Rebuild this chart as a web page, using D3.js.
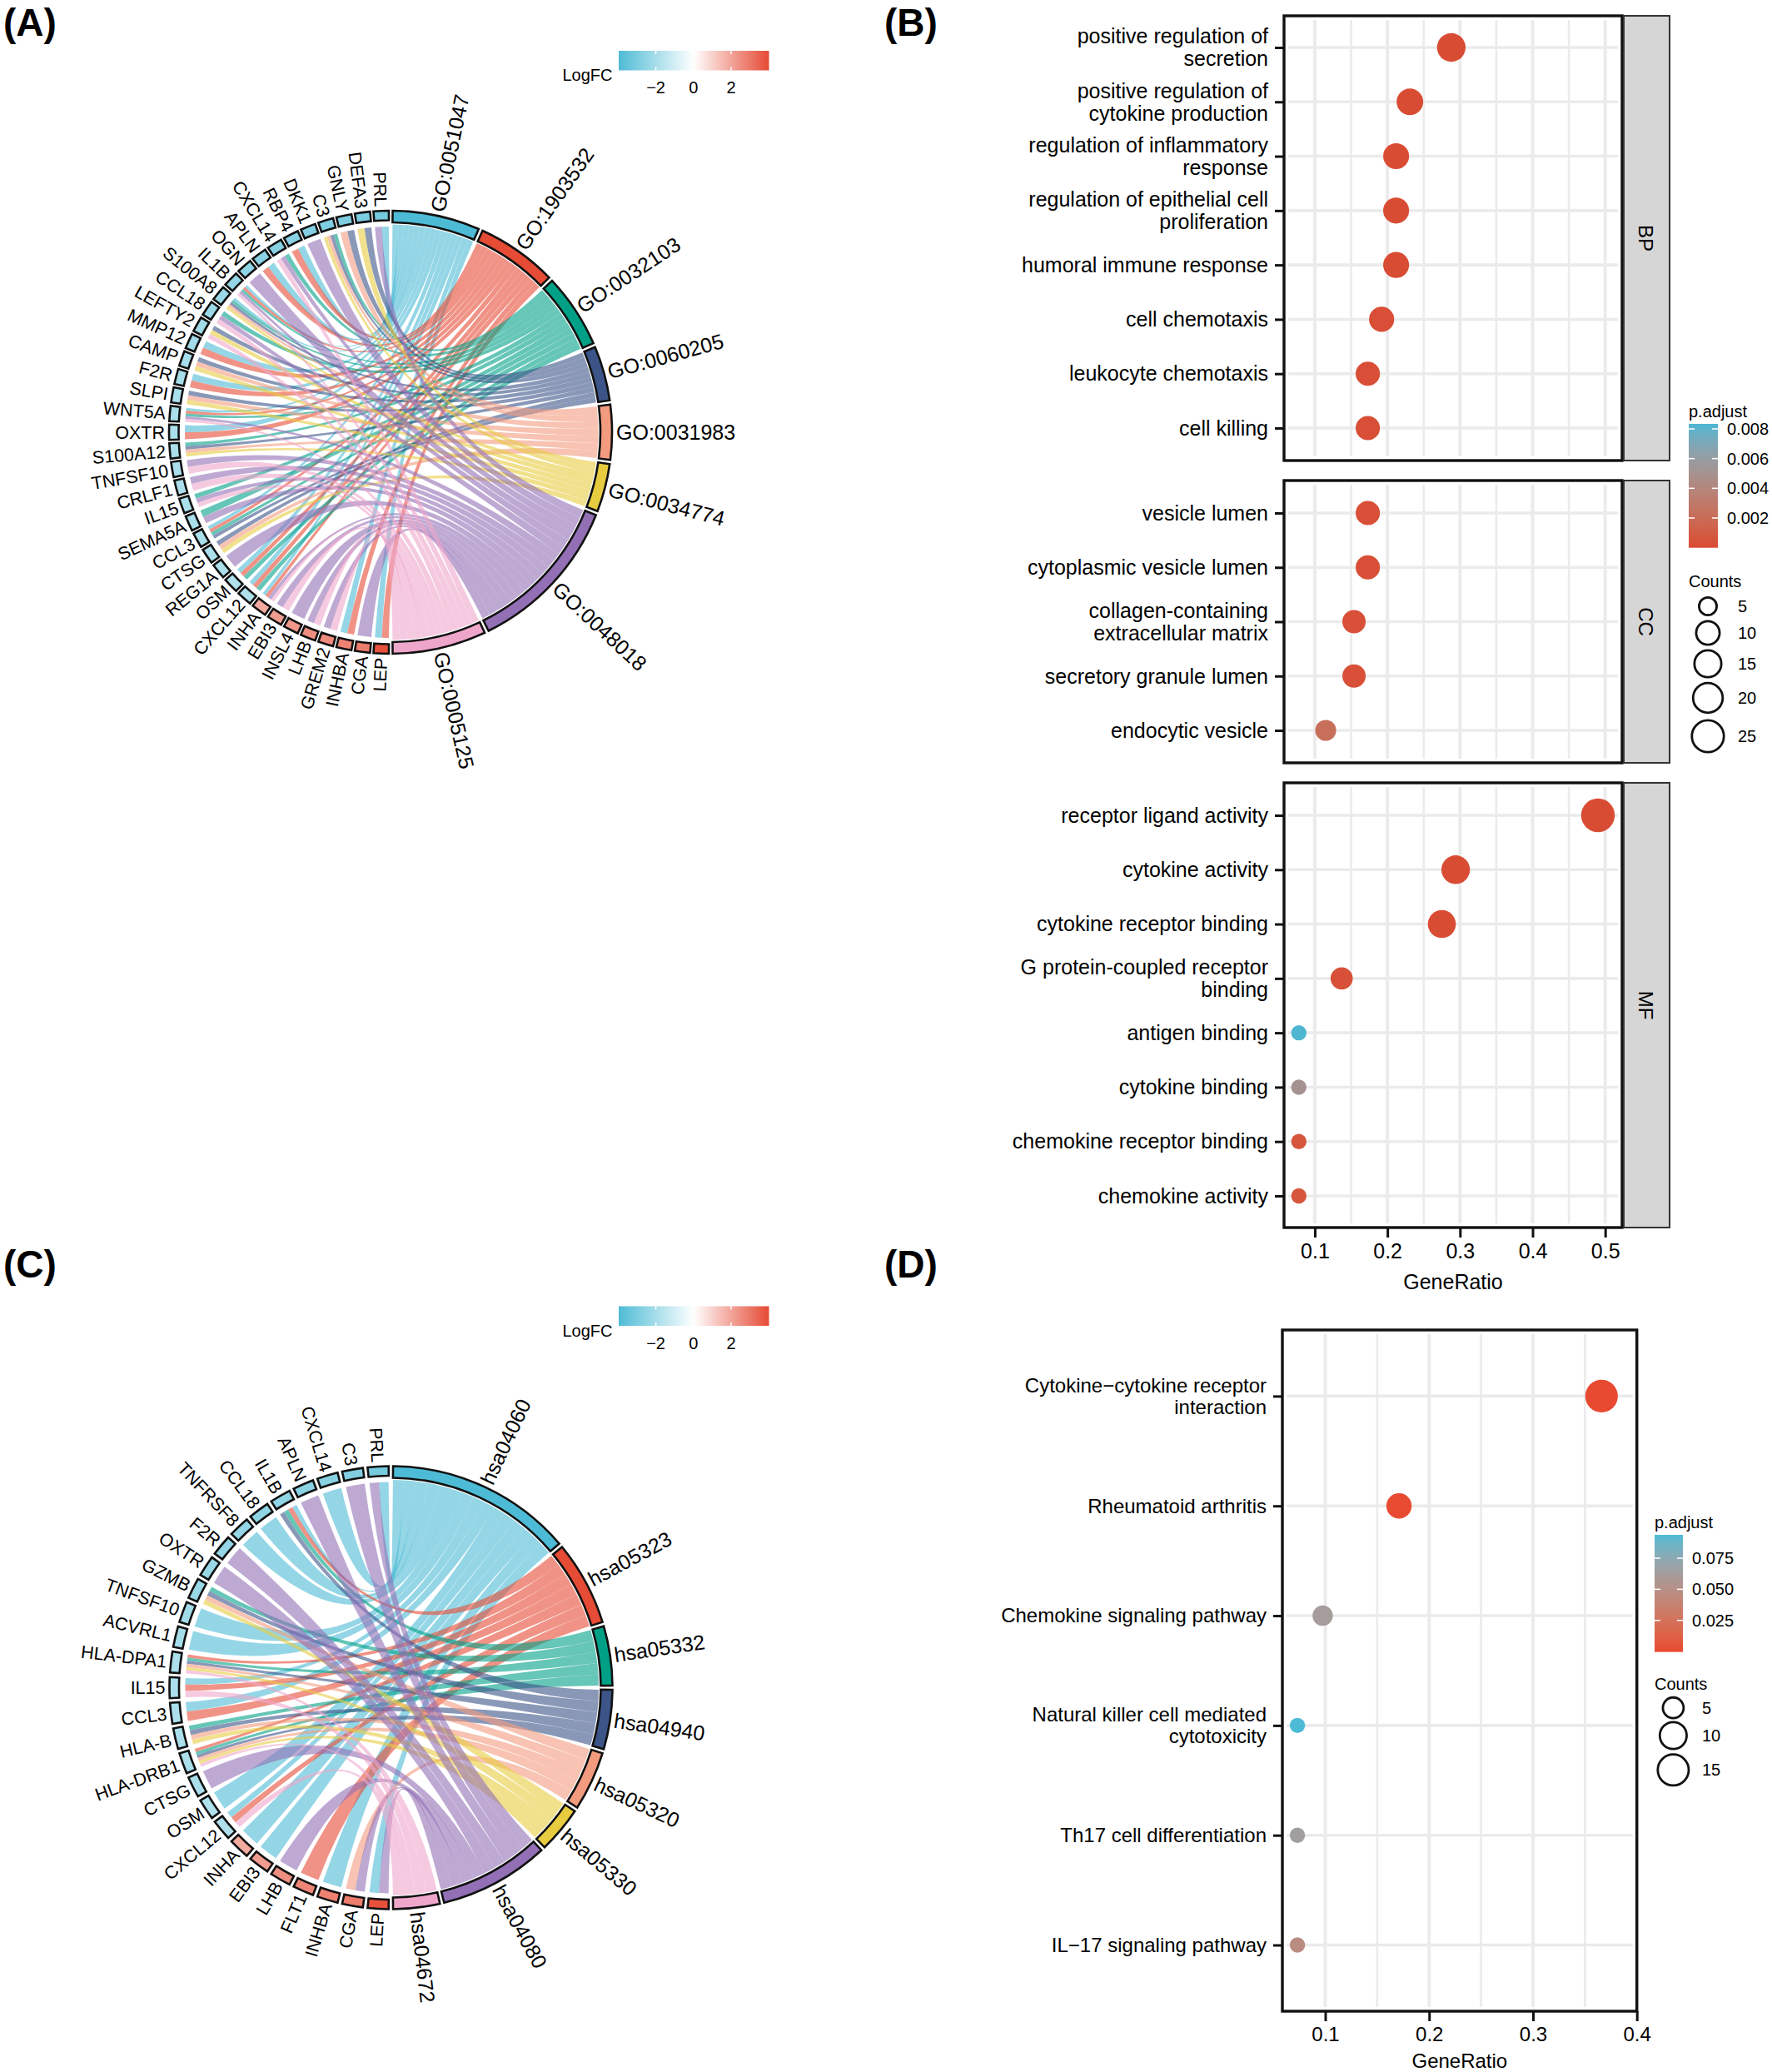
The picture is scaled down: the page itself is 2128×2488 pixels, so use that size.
<!DOCTYPE html>
<html>
<head>
<meta charset="utf-8">
<script src="https://cdn.jsdelivr.net/npm/d3@7/dist/d3.min.js"></script>
<style>
html,body{margin:0;padding:0;background:#fff}
svg{display:block}
text{font-family:"Liberation Sans",Arial,sans-serif;fill:#000}
</style>
</head>
<body>
<svg id="fig" width="2128" height="2488" viewBox="0 0 2128 2488"></svg>
<script>
// ---------- DATA: chord A ----------
const goTerms = ["GO:0051047","GO:1903532","GO:0032103","GO:0060205","GO:0031983","GO:0034774","GO:0048018","GO:0005125"];
const goSizes = [14,13,12,9,9,8,25,15];
const goGenes = ["LEP","CGA","INHBA","GREM2","LHB","INSL4","EBI3","INHA","CXCL12","OSM","REG1A","CTSG","CCL3","SEMA5A","IL15","CRLF1","TNFSF10","S100A12","OXTR","WNT5A","SLPI","F2R","CAMP","MMP12","LEFTY2","CCL18","S100A8","IL1B","OGN","APLN","CXCL14","RBP4","DKK1","C3","GNLY","DEFA3","PRL"];
const goLogFC = [3.9,2.9,2.8,2.6,2.5,2.3,2.2,1.9,-1.8,-1.8,-1.9,-1.9,-1.9,-1.9,-1.9,-1.9,-1.9,-1.9,-1.9,-1.9,-1.9,-2.0,-2.0,-2.1,-2.1,-2.2,-2.3,-2.4,-2.5,-2.6,-2.7,-2.7,-2.8,-2.9,-2.9,-3.0,-3.1];
const goMembership = [[1,0],[6],[1,0],[7,6],[7,6],[6],[7,6],[7,6,1,0],[2,1,0],[2,1,0],[6],[5,4,3],[3,2,1,0],[6,2],[7,6,2],[7,6],[7,6],[5,4,3,2],[1,0],[7,6,2,1,0],[5,4,3],[1,0],[5,4,3],[1,0],[7,5,3],[7,6,2],[5,4,3,2,0],[7,6,2,1,0],[6],[1,0],[7,6,2],[1,0],[6],[5,4,3,2],[4,3],[5,3],[6,0]];

// ---------- DATA: chord C ----------
const keggTerms = ["hsa04060","hsa05323","hsa05332","hsa04940","hsa05320","hsa05330","hsa04080","hsa04672"];
const keggSizes = [15,7,5,5,5,4,9,4];
const keggGenes = ["LEP","CGA","INHBA","FLT1","LHB","EBI3","INHA","CXCL12","OSM","CTSG","HLA-DRB1","HLA-B","CCL3","IL15","HLA-DPA1","ACVRL1","TNFSF10","GZMB","OXTR","F2R","TNFRSF8","CCL18","IL1B","APLN","CXCL14","C3","PRL"];
const keggLogFC = [3.9,2.9,2.8,2.7,2.5,2.2,1.9,-1.8,-1.8,-1.9,-1.9,-1.9,-1.9,-1.9,-1.9,-2.0,-2.1,-2.3,-2.3,-2.4,-2.4,-2.5,-2.5,-2.6,-2.7,-2.8,-3.1];
const keggMembership = [[6,0],[6,4],[0],[1],[6],[0],[0],[7,1,0],[0],[6],[7,5,4,3,2,1],[5,4,3,2],[1,0],[7,1,0],[7,5,4,3,2,1],[0],[0],[5,4,3,2],[6],[6],[0],[0],[3,2,1,0],[6],[0],[6],[6,0]];

const ribbonColors = ["#4DBBD5","#E64B35","#00A087","#3C5488","#F39B7F","#E8CC40","#9370B5","#EEA6CB"];
const logFCTicks = [-2,0,2];

// ---------- DATA: dot panel B ----------
const bpTerms = ["positive regulation of\nsecretion","positive regulation of\ncytokine production","regulation of inflammatory\nresponse","regulation of epithelial cell\nproliferation","humoral immune response","cell chemotaxis","leukocyte chemotaxis","cell killing"];
const bpRatio = [0.288,0.231,0.212,0.212,0.212,0.192,0.173,0.173];
const bpCounts = [15,12,11,11,11,10,9,9];
const bpP = [0.0001,0.0001,0.0001,0.0001,0.0001,0.0002,0.0002,0.0002];
const ccTerms = ["vesicle lumen","cytoplasmic vesicle lumen","collagen-containing\nextracellular matrix","secretory granule lumen","endocytic vesicle"];
const ccRatio = [0.173,0.173,0.154,0.154,0.115];
const ccCounts = [9,9,8,8,6];
const ccP = [0.0002,0.0002,0.0003,0.0003,0.0022];
const mfTerms = ["receptor ligand activity","cytokine activity","cytokine receptor binding","G protein-coupled receptor\nbinding","antigen binding","cytokine binding","chemokine receptor binding","chemokine activity"];
const mfRatio = [0.49,0.294,0.275,0.137,0.078,0.078,0.078,0.078];
const mfCounts = [25,15,14,7,4,4,4,4];
const mfP = [0.0001,0.0001,0.0001,0.0003,0.0083,0.0050,0.0006,0.0006];
const bTicks = [0.1,0.2,0.3,0.4,0.5];
const bMinor = [0.15,0.25,0.35,0.45];
const bLegendCounts = [5,10,15,20,25];
const bLegendP = [0.008,0.006,0.004,0.002];

// ---------- DATA: dot panel D ----------
const keggDotTerms = ["Cytokine\u2212cytokine receptor\ninteraction","Rheumatoid arthritis","Chemokine signaling pathway","Natural killer cell mediated\ncytotoxicity","Th17 cell differentiation","IL\u221217 signaling pathway"];
const keggDotRatio = [0.366,0.171,0.0975,0.0732,0.0732,0.0732];
const keggDotCounts = [15,7,4,3,3,3];
const keggDotP = [0.0002,0.0003,0.062,0.0938,0.064,0.047];
const dTicks = [0.1,0.2,0.3,0.4];
const dMinor = [0.15,0.25,0.35];
const dLegendCounts = [5,10,15];
const dLegendP = [0.075,0.05,0.025];

// ---------- helpers ----------
const svg = d3.select("#fig");
const defs = svg.append("defs");
const FONT = '"Liberation Sans",Arial,sans-serif';
const rad = d => d * Math.PI / 180;
const polar = (r, deg) => [r * Math.sin(rad(deg)), -r * Math.cos(rad(deg))];

function panelLabel(txt, x, y) {
  svg.append("text").attr("x", x).attr("y", y).attr("font-size", 46).attr("font-weight", 700).text(txt);
}

let gradId = 0;
function gradient(color, domain, horizontal) {
  const id = "grad" + (gradId++);
  const g = defs.append("linearGradient").attr("id", id)
    .attr("x1", 0).attr("y1", horizontal ? 0 : 1).attr("x2", horizontal ? 1 : 0).attr("y2", 0);
  d3.range(0, 21).forEach(i => {
    g.append("stop").attr("offset", (i * 5) + "%").attr("stop-color", color(domain[0] + (domain[1] - domain[0]) * i / 20));
  });
  return id;
}

const logFCColor = d3.scaleLinear().domain([-4, 0, 4]).range(["#4DBBD5", "#ffffff", "#E64B35"]).clamp(true);

function chord(cx, cy, terms, sizes, genes, logFC, membership, legendY) {
  const R = 266, termInner = 252, geneInner = 254.5, termRib = 249.5, geneRib = 247;
  const g = svg.append("g").attr("transform", `translate(${cx},${cy})`);
  const total = d3.sum(sizes);
  const angle = d3.scaleLinear().domain([0, total]).range([0, 180]);
  const cum = d3.cumsum(sizes);
  const termGap = 0.55;
  const termArcs = terms.map((t, i) => ({
    name: t, i,
    a0: angle(i ? cum[i - 1] : 0) + termGap,
    a1: angle(cum[i]) - termGap
  }));
  const geneAngle = d3.scaleBand().domain(d3.range(genes.length)).range([180, 360]);
  const step = geneAngle.bandwidth();

  // ribbons: ordered inside a term so that the first term angle meets the last gene
  const ribbons = [];
  termArcs.forEach(T => {
    const gs = d3.range(genes.length).filter(k => membership[k].includes(T.i)).reverse();
    const w = (T.a1 - T.a0) / gs.length;
    gs.forEach((k, j) => {
      const list = membership[k];
      const slot = list.indexOf(T.i);
      const ga = geneAngle(k) + step * 0.10;
      const gw = step * 0.80 / list.length;
      ribbons.push({ T, t0: T.a0 + j * w, t1: T.a0 + (j + 1) * w, g0: ga + slot * gw, g1: ga + (slot + 1) * gw });
    });
  });
  g.append("g").selectAll("path").data(ribbons).join("path")
    .attr("fill", d => ribbonColors[d.T.i])
    .attr("fill-opacity", 0.6)
    .attr("d", d => {
      const p = d3.path();
      const a = polar(termRib, d.t0), b = polar(geneRib, d.g1), c = polar(geneRib, d.g0), e = polar(termRib, d.t1);
      p.moveTo(a[0], a[1]);
      p.quadraticCurveTo(0, 0, b[0], b[1]);
      p.arc(0, 0, geneRib, rad(d.g1 - 90), rad(d.g0 - 90), true);
      p.quadraticCurveTo(0, 0, e[0], e[1]);
      p.arc(0, 0, termRib, rad(d.t1 - 90), rad(d.t0 - 90), true);
      p.closePath();
      return p.toString();
    });

  // term ring
  const ringArc = d3.arc();
  g.append("g").selectAll("path").data(termArcs).join("path")
    .attr("fill", d => ribbonColors[d.i]).attr("stroke", "#111").attr("stroke-width", 2.6)
    .attr("d", d => ringArc({ innerRadius: termInner, outerRadius: R, startAngle: rad(d.a0), endAngle: rad(d.a1) }));

  // gene ring
  g.append("g").selectAll("path").data(genes).join("path")
    .attr("fill", (d, i) => logFCColor(logFC[i])).attr("stroke", "#111").attr("stroke-width", 2.6)
    .attr("d", (d, i) => ringArc({ innerRadius: geneInner, outerRadius: R, startAngle: rad(geneAngle(i) + step * 0.09), endAngle: rad(geneAngle(i) + step * 0.91) }));

  // labels
  g.append("g").selectAll("text").data(termArcs).join("text")
    .attr("font-size", 25).attr("dy", "0.35em").attr("text-anchor", "start")
    .attr("transform", d => `rotate(${(d.a0 + d.a1) / 2 - 90}) translate(271,0)`)
    .text(d => d.name);
  g.append("g").selectAll("text").data(genes).join("text")
    .attr("font-size", 21.5).attr("dy", "0.35em").attr("text-anchor", "end")
    .attr("transform", (d, i) => {
      const a = geneAngle(i) + step / 2;
      return `rotate(${a - 270}) translate(-271,0)`;
    })
    .text(d => d);

  // logFC legend
  const lx = d3.scaleLinear().domain([-2, 2]).range([787.6, 878]);
  const dom = [lx.invert(743), lx.invert(923.5)];
  const id = gradient(logFCColor, dom, true);
  const lg = svg.append("g");
  lg.append("rect").attr("x", 743).attr("y", legendY).attr("width", 180.5).attr("height", 23.5).attr("fill", `url(#${id})`);
  logFCTicks.forEach(t => {
    lg.append("line").attr("x1", lx(t)).attr("x2", lx(t)).attr("y1", legendY).attr("y2", legendY + 4).attr("stroke", "#fff").attr("stroke-width", 1.5);
    lg.append("line").attr("x1", lx(t)).attr("x2", lx(t)).attr("y1", legendY + 19.5).attr("y2", legendY + 23.5).attr("stroke", "#fff").attr("stroke-width", 1.5);
    lg.append("text").attr("x", lx(t)).attr("y", legendY + 51).attr("font-size", 20).attr("text-anchor", "middle").text(t < 0 ? "\u2212" + Math.abs(t) : t);
  });
  lg.append("text").attr("x", 735.5).attr("y", legendY + 36).attr("font-size", 20).attr("text-anchor", "end").text("LogFC");
}

function gridAndFrame(g, x, top, bottom, left, right, ticks, minor, rows, y) {
  const inset = 5;
  g.append("rect").attr("x", left).attr("y", top).attr("width", right - left).attr("height", bottom - top).attr("fill", "#fff");
  g.selectAll(".minor").data(minor).join("line").attr("class", "minor")
    .attr("x1", d => x(d)).attr("x2", d => x(d)).attr("y1", top + inset).attr("y2", bottom - inset)
    .attr("stroke", "#EBEBEB").attr("stroke-width", 2.6);
  g.selectAll(".major").data(ticks).join("line").attr("class", "major")
    .attr("x1", d => x(d)).attr("x2", d => x(d)).attr("y1", top + inset).attr("y2", bottom - inset)
    .attr("stroke", "#EBEBEB").attr("stroke-width", 4);
  g.selectAll(".hgrid").data(rows).join("line").attr("class", "hgrid")
    .attr("x1", left + inset).attr("x2", right - inset).attr("y1", d => y(d)).attr("y2", d => y(d))
    .attr("stroke", "#EBEBEB").attr("stroke-width", 3.6);
}

function dotPanel(o) {
  const g = svg.append("g");
  const y = d3.scalePoint().domain(o.rows).range([o.y0, o.y1]);
  gridAndFrame(g, o.x, o.top, o.bottom, o.left, o.right, o.ticks, o.minor, o.rows, y);
  g.append("g").selectAll("circle").data(o.rows).join("circle")
    .attr("cx", (d, i) => o.x(o.ratio[i]))
    .attr("cy", d => y(d))
    .attr("r", (d, i) => o.r(o.counts[i]))
    .attr("fill", (d, i) => o.color(o.p[i]));
  // y axis
  const ya = g.append("g").attr("transform", `translate(${o.left},0)`)
    .call(d3.axisLeft(y).tickSize(11).tickPadding(8));
  ya.select(".domain").remove();
  ya.selectAll("line").attr("stroke", "#111").attr("stroke-width", 3);
  ya.selectAll("text").each(function (d) {
    const lines = d.split("\n");
    const t = d3.select(this).text(null).attr("font-size", o.fs).attr("font-family", FONT).attr("dy", null).attr("text-anchor", "end");
    const lh = o.fs * 1.08;
    lines.forEach((s, i) => {
      t.append("tspan").attr("x", -19).attr("y", y.bandwidth() + (i - (lines.length - 1) / 2) * lh + o.fs * 0.33).text(s);
    });
  });
  // frame
  g.append("rect").attr("x", o.left).attr("y", o.top).attr("width", o.right - o.left).attr("height", o.bottom - o.top)
    .attr("fill", "none").attr("stroke", "#111").attr("stroke-width", 3.4);
  if (o.strip) {
    const s = g.append("g");
    s.append("rect").attr("x", o.right + 2).attr("y", o.top).attr("width", 55).attr("height", o.bottom - o.top)
      .attr("fill", "#D6D6D6").attr("stroke", "#333").attr("stroke-width", 2);
    s.append("text").attr("font-size", 24)
      .attr("text-anchor", "middle").attr("dy", "0.35em")
      .attr("transform", `translate(${o.right + 28.5},${(o.top + o.bottom) / 2}) rotate(90)`).text(o.strip);
  }
  return g;
}

function xAxis(x, yPos, ticks, fs, title, titleY) {
  const a = svg.append("g").attr("transform", `translate(0,${yPos})`)
    .call(d3.axisBottom(x).tickValues(ticks).tickFormat(d3.format(".1f")).tickSize(12).tickPadding(7));
  a.select(".domain").remove();
  a.selectAll("line").attr("stroke", "#111").attr("stroke-width", 3);
  a.selectAll("text").attr("font-size", fs).attr("font-family", FONT);
  const r = x.range();
  svg.append("text").attr("x", (r[0] + r[1]) / 2).attr("y", titleY).attr("text-anchor", "middle").attr("font-size", fs).text(title);
}

function colorLegend(x0, y0, w, h, color, domain, ticks, titleY, labelX, fmt, tickY) {
  const id = gradient(color, domain, false);
  const g = svg.append("g");
  g.append("text").attr("x", x0).attr("y", titleY).attr("font-size", 20).text("p.adjust");
  g.append("rect").attr("x", x0).attr("y", y0).attr("width", w).attr("height", h).attr("fill", `url(#${id})`);
  ticks.forEach(t => {
    const yy = tickY(t);
    g.append("line").attr("x1", x0).attr("x2", x0 + 7).attr("y1", yy).attr("y2", yy).attr("stroke", "#fff").attr("stroke-width", 1.5);
    g.append("line").attr("x1", x0 + w - 7).attr("x2", x0 + w).attr("y1", yy).attr("y2", yy).attr("stroke", "#fff").attr("stroke-width", 1.5);
    g.append("text").attr("x", labelX).attr("y", yy).attr("dy", "0.35em").attr("font-size", 20).text(fmt(t));
  });
}

function sizeLegend(x0, titleY, cx, cys, counts, r, labelX) {
  const g = svg.append("g");
  g.append("text").attr("x", x0).attr("y", titleY).attr("font-size", 20).text("Counts");
  counts.forEach((c, i) => {
    g.append("circle").attr("cx", cx).attr("cy", cys[i]).attr("r", r(c) - 1).attr("fill", "#fff").attr("stroke", "#111").attr("stroke-width", 2.8);
    g.append("text").attr("x", labelX).attr("y", cys[i]).attr("dy", "0.35em").attr("font-size", 20).text(c);
  });
}

// ---------- Panels ----------
panelLabel("(A)", 4, 42.5);
panelLabel("(B)", 1062, 42.5);
panelLabel("(C)", 4, 1534);
panelLabel("(D)", 1062, 1534);

chord(469, 519, goTerms, goSizes, goGenes, goLogFC, goMembership, 61);
chord(469.5, 2026.5, keggTerms, keggSizes, keggGenes, keggLogFC, keggMembership, 1568.5);

// Panel B
const xB = d3.scaleLinear().domain([0.0576, 0.5233]).range([1542, 1948]);
const colB = d3.scaleLinear().domain([0, 0.00834]).range(["#DA4A32", "#4DB6D2"]).interpolate(d3.interpolateLab);
const rB = c => 9.2 + 11 * Math.sqrt((c - 4) / 21);
const commonB = { x: xB, left: 1542, right: 1948, ticks: bTicks, minor: bMinor, r: rB, color: colB, fs: 25 };
dotPanel({ ...commonB, rows: bpTerms, ratio: bpRatio, counts: bpCounts, p: bpP, top: 19, bottom: 553, y0: 57, y1: 514, strip: "BP" });
dotPanel({ ...commonB, rows: ccTerms, ratio: ccRatio, counts: ccCounts, p: ccP, top: 577, bottom: 916, y0: 616, y1: 877, strip: "CC" });
dotPanel({ ...commonB, rows: mfTerms, ratio: mfRatio, counts: mfCounts, p: mfP, top: 940, bottom: 1474, y0: 979, y1: 1436, strip: "MF" });
xAxis(xB, 1474, bTicks, 25, "GeneRatio", 1548);
const tyB = d3.scaleLinear().domain([0.002, 0.008]).range([622, 515]);
colorLegend(2028, 509, 35, 148.7, colB, [tyB.invert(657.7), tyB.invert(509)], bLegendP, 501, 2074, d3.format(".3f"), tyB);
sizeLegend(2028, 705, 2051, [728, 760, 797, 838, 884], bLegendCounts, rB, 2087);

// Panel D
const xD = d3.scaleLinear().domain([0.0587, 0.4]).range([1540, 1965.7]);
const colD = d3.scaleLinear().domain([0, 0.0938]).range(["#E84A31", "#4DBBD5"]).interpolate(d3.interpolateLab);
const rD = c => 9.2 + 10.4 * Math.sqrt((c - 3) / 12);
dotPanel({ x: xD, left: 1540, right: 1965.7, ticks: dTicks, minor: dMinor, r: rD, color: colD, fs: 24,
  rows: keggDotTerms, ratio: keggDotRatio, counts: keggDotCounts, p: keggDotP, top: 1597, bottom: 2415, y0: 1676.4, y1: 2335.5 });
xAxis(xD, 2415, dTicks, 24, "GeneRatio", 2482.5);
const tyD = d3.scaleLinear().domain([0.025, 0.075]).range([1945.7, 1871]);
colorLegend(1987, 1843, 34, 140.6, colD, [tyD.invert(1983.6), tyD.invert(1843)], dLegendP, 1835, 2032, d3.format(".3f"), tyD);
sizeLegend(1987, 2029, 2009.4, [2050.7, 2084, 2125.3], dLegendCounts, rD, 2044);
</script>
</body>
</html>
